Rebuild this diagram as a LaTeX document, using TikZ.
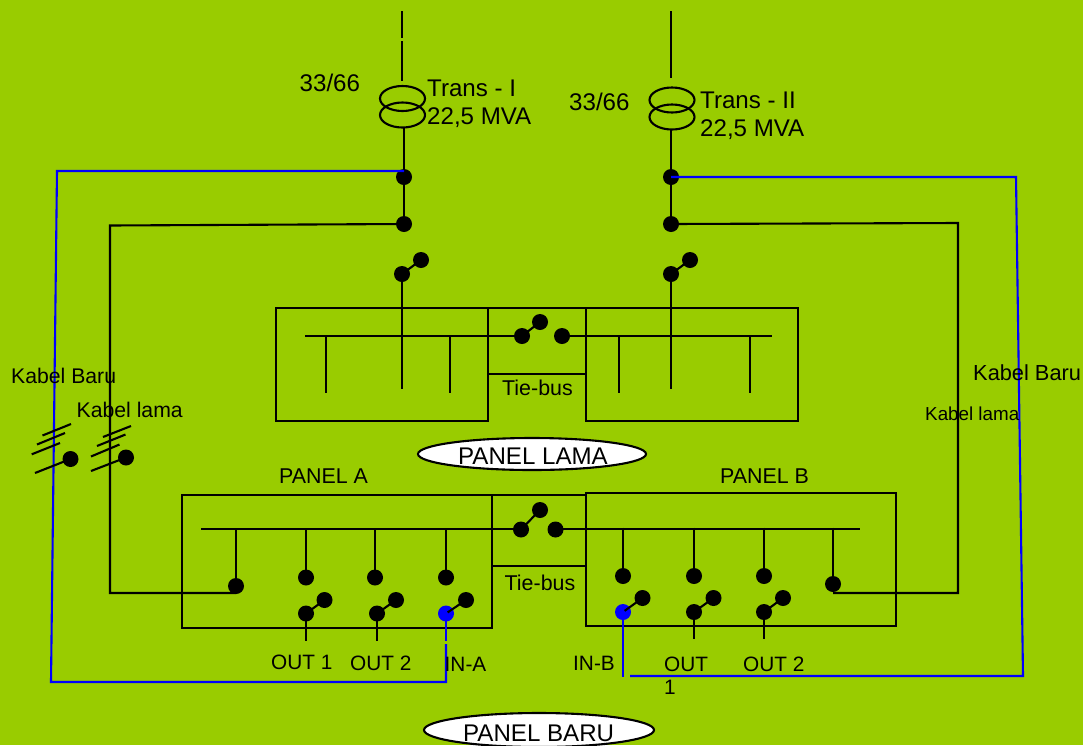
\documentclass[tikz,border=0pt]{standalone}
\usepackage{fontspec}
\setmainfont{Liberation Sans}
\usetikzlibrary{shapes.geometric}
\definecolor{bgc}{HTML}{99CC00}
\definecolor{bluec}{HTML}{0000FF}
\tikzset{
 ln/.style={draw=black,line width=2.1pt,line cap=butt},
 bl/.style={draw=bluec,line width=2.1pt},
 dot/.style={circle,fill=black,inner sep=0pt,minimum size=16pt},
 bdot/.style={circle,fill=bluec,inner sep=0pt,minimum size=16pt},
 tf/.style={ellipse,draw=black,line width=2.1pt,minimum width=45pt,minimum height=25pt,inner sep=0pt,outer sep=0pt},
 oval/.style={ellipse,draw=black,line width=2.1pt,fill=white,inner sep=0pt,outer sep=0pt},
 box/.style={draw=black,line width=2.1pt,inner sep=0pt,outer sep=0pt,anchor=north west},
 tx/.style={anchor=base west,inner sep=0pt,text=black},
 big/.style={tx,font=\fontsize{24.1}{28}\selectfont},
 mid/.style={tx,font=\fontsize{21.4}{25}\selectfont},
 cab/.style={tx,font=\fontsize{21.2}{25}\selectfont},
 lab/.style={tx,font=\fontsize{20.8}{25}\selectfont},
 small/.style={tx,font=\fontsize{18.8}{22}\selectfont},
}
\begin{document}
\begin{tikzpicture}[x=1pt,y=-1pt]
\fill[bgc] (0,0) rectangle (1083,745);
\useasboundingbox (0,0) rectangle (1083,745);

% panels (old)
\node[box,minimum width=212pt,minimum height=113pt] (oldA) at (276,308) {};
\node[box,minimum width=212pt,minimum height=113pt] (oldB) at (586,308) {};
\node[box,minimum width=98pt,minimum height=66pt] (oldT) at (488,308) {};
% panels (new)
\node[box,minimum width=310pt,minimum height=133pt] (newA) at (182,495) {};
\node[box,minimum width=310pt,minimum height=133pt] (newB) at (586,493) {};
\node[box,minimum width=94pt,minimum height=71pt] (newT) at (492,495) {};

% transformers
\node[tf] (t1u) at (402.5,98.5) {};
\node[tf] (t1l) at (402.5,115) {};
\node[tf] (t2u) at (672,100) {};
\node[tf] (t2l) at (672,117) {};

% top feeders
\coordinate (a0) at (402,11); \coordinate (a1) at (402,38);
\coordinate (a2) at (402,41); \coordinate (a3) at (402,81);
\coordinate (b0) at (671,11); \coordinate (b1) at (671,78);
\draw[ln] (a0)--(a1); \draw[ln] (a2)--(a3); \draw[ln] (b0)--(b1);

% junction dots
\node[dot] (j1) at (404,177) {};
\node[dot] (j2) at (404,224) {};
\node[dot] (j3) at (671,177) {};
\node[dot] (j4) at (671,224) {};
\coordinate (t1b) at (404,127.5);
\coordinate (t2b) at (671,129.5);
\draw[ln] (t1b)--(j1.center)--(j2.center);
\draw[ln] (t2b)--(j3.center)--(j4.center);

% old switches
\node[dot] (s1a) at (402,274) {};
\node[dot] (s1b) at (421,260) {};
\node[dot] (s2a) at (671,274) {};
\node[dot] (s2b) at (690,260) {};
\draw[ln] (s1a.center)--(s1b.center);
\draw[ln] (s2a.center)--(s2b.center);
\coordinate (s1e) at (402,389);
\coordinate (s2e) at (671,389);
\draw[ln] (s1a.center)--(s1e);
\draw[ln] (s2a.center)--(s2e);

% old bus
\coordinate (obl) at (305,336); \coordinate (obr) at (772,336);
\node[dot] (ot1) at (522,336) {};
\node[dot] (ot2) at (540,322) {};
\node[dot] (ot3) at (562,336) {};
\draw[ln] (obl)--(ot1.center);
\draw[ln] (ot3.center)--(obr);
\draw[ln] (ot1.center)--(ot2.center);
\foreach \n/\x in {a/326,b/450,c/619,d/750}{
  \coordinate (of\n t) at (\x,336); \coordinate (of\n b) at (\x,393);
  \draw[ln] (of\n t)--(of\n b);
}

% new bus
\coordinate (nbl) at (201,529); \coordinate (nbr) at (860,529);
\node[dot] (nt1) at (521,529.5) {};
\node[dot] (nt2) at (540,510) {};
\node[dot] (nt3) at (555.5,529.5) {};
\draw[ln] (nbl)--(nt1.center |- nbl);
\draw[ln] (nt3.center |- nbr)--(nbr);
\draw[ln] (nt1.center)--(nt2.center);

% panel A feeders
\node[dot] (fa0) at (236,586) {};
\node[dot] (fa1) at (306,577.5) {};
\node[dot] (fa2) at (375,577.5) {};
\node[dot] (fa3) at (446,577.5) {};
\foreach \n/\x in {fa0/236,fa1/306,fa2/375,fa3/446}{
  \coordinate (\n t) at (\x,529);
  \draw[ln] (\n t)--(\n.center);
}
\node[dot] (sa1) at (306,613.5) {};
\node[dot] (ra1) at (324.5,600) {};
\node[dot] (sa2) at (377,613.5) {};
\node[dot] (ra2) at (396,600) {};
\node[bdot] (sa3) at (446,613.5) {};
\node[dot] (ra3) at (466,600) {};
\draw[ln] (sa1.center)--(ra1.center);
\draw[ln] (sa2.center)--(ra2.center);
\draw[ln,shorten <=2pt] (sa3.center)--(ra3.center);
\coordinate (ea1) at (306,640.5); \coordinate (ea2) at (377,640.5);
\draw[ln] (sa1.center)--(ea1);
\draw[ln] (sa2.center)--(ea2);

% panel B feeders
\node[dot] (fb0) at (623,576) {};
\node[dot] (fb1) at (694,576) {};
\node[dot] (fb2) at (764,576) {};
\node[dot] (fb3) at (833,584) {};
\foreach \n/\x in {fb0/623,fb1/694,fb2/764,fb3/833}{
  \coordinate (\n t) at (\x,527.5);
  \draw[ln] (\n t)--(\n.center);
}
\node[bdot] (sb0) at (623,612) {};
\node[dot] (rb0) at (642.5,598) {};
\node[dot] (sb1) at (694,612) {};
\node[dot] (rb1) at (713.5,598) {};
\node[dot] (sb2) at (764,612) {};
\node[dot] (rb2) at (783,598) {};
\draw[ln,shorten <=2pt] (sb0.center)--(rb0.center);
\draw[ln] (sb1.center)--(rb1.center);
\draw[ln] (sb2.center)--(rb2.center);
\coordinate (eb1) at (694,639); \coordinate (eb2) at (764,639);
\draw[ln] (sb1.center)--(eb1);
\draw[ln] (sb2.center)--(eb2);

% old cables (black)
\coordinate (c1) at (236,593); \coordinate (c2) at (110,593); \coordinate (c3) at (110,225.5);
\draw[ln] (c1)--(c2)--(c3)--(j2.center);
\coordinate (d1) at (833,593); \coordinate (d2) at (958,593); \coordinate (d3) at (958,223);
\draw[ln] (d1)--(d2)--(d3)--(j4.center);

% new cables (blue)
\coordinate (e2) at (446,641);
\coordinate (e3) at (446,644); \coordinate (e4) at (446,682);
\coordinate (e5) at (51,682); \coordinate (e6) at (57,171); \coordinate (e7) at (404,171);
\draw[bl] (sa3.center)--(e2);
\draw[bl] (e3)--(e4)--(e5)--(e6)--(e7);
\coordinate (g1) at (623,677); \coordinate (g2) at (630,676);
\coordinate (g3) at (1023,676); \coordinate (g4) at (1016,177);
\draw[bl] (sb0.center)--(g1);
\draw[bl] (g2)--(g3)--(g4)--(j3.center);

% cable symbols
\node[dot] (k1) at (70.5,459) {};
\node[dot] (k2) at (126,457.5) {};
\coordinate (k1e) at (35,473); \coordinate (k2e) at (91,471);
\draw[ln] (k1.center)--(k1e);
\draw[ln] (k2.center)--(k2e);
\foreach \n/\xa/\ya/\xb/\yb in {p1/31.7/454.3/60/443,p2/37/444.5/65/433,p3/42.5/435.5/71/424,q1/91/456.5/119.5/444.5,q2/97/446/125.5/434.5,q3/103/437/131/426}{
  \coordinate (\n a) at (\xa,\ya); \coordinate (\n b) at (\xb,\yb);
  \draw[ln] (\n a)--(\n b);
}

% ovals
\node[oval,minimum width=228pt,minimum height=32pt] (lama) at (532,454) {};
\node[oval,minimum width=230pt,minimum height=34pt] (baru) at (539,730) {};

% labels
\node[big] (l1) at (299.5,91) {33/66};
\node[big] (l2) at (427,96) {Trans - I};
\node[big] (l3) at (427,124) {22,5 MVA};
\node[big] (l4) at (569,110) {33/66};
\node[big] (l5) at (700,108) {Trans - II};
\node[big] (l6) at (700,136) {22,5 MVA};
\node[cab] (l7) at (11,383) {Kabel Baru};
\node[cab] (l8) at (76.5,417) {Kabel lama};
\node[mid,font=\fontsize{21.8}{25}\selectfont] (l9) at (973,380) {Kabel Baru};
\node[small] (l10) at (925,420) {Kabel lama};
\node[mid] (l11) at (502,395) {Tie-bus};
\node[mid] (l12) at (504.5,590.7) {Tie-bus};
\node[big] (l13) at (458,464) {PANEL LAMA};
\node[big] (l14) at (463,741) {PANEL BARU};
\node[mid] (l15) at (279,483) {PANEL A};
\node[mid] (l16) at (720,483) {PANEL B};
\node[lab] (l17) at (271,669) {OUT 1};
\node[lab] (l18) at (350,670.7) {OUT 2};
\node[lab] (l19) at (444.5,671) {IN-A};
\node[lab] (l20) at (573,670.7) {IN-B};
\node[lab] (l21) at (664,671) {OUT};
\node[lab] (l22) at (664,694) {1};
\node[lab] (l23) at (743,671) {OUT 2};
\end{tikzpicture}
\end{document}
